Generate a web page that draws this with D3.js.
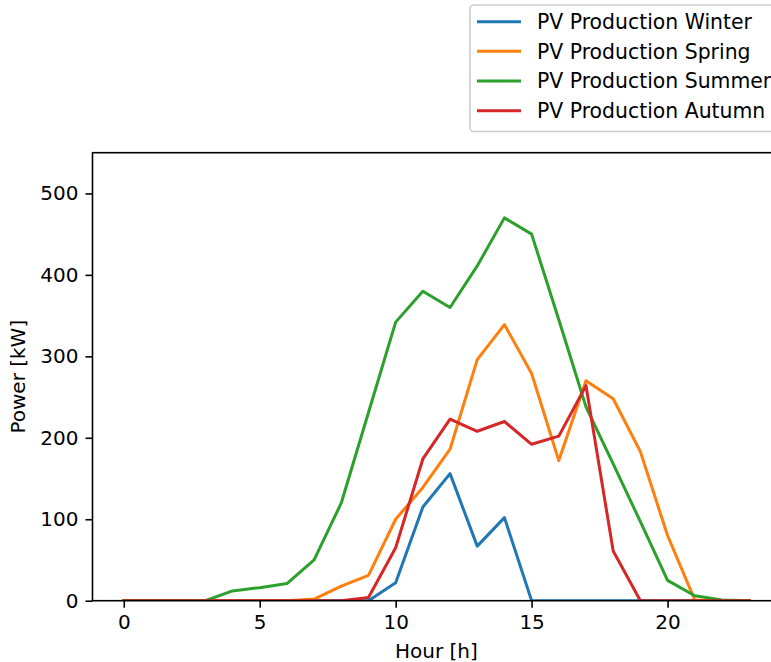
<!DOCTYPE html>
<html>
<head>
<meta charset="utf-8">
<script src="https://cdn.jsdelivr.net/npm/d3@7"></script>
<style>
  html, body { margin: 0; padding: 0; background: #fff; overflow: hidden; }
  svg { display: block; font-family: "DejaVu Sans", sans-serif; }
</style>
</head>
<body>
<svg id="chart" width="771" height="662"></svg>
<script>
const hours = d3.range(0, 24);
const winter = [0,0,0,0,0,0,0,0,0,0,22,115,156,67,102,0,0,0,0,0,0,0,0,0];
const spring = [0,0,0,0,0,0,0,2,18,31,100,139,186,296,339,279,172,270,248,183,80,1,0,0];
const summer = [0,0,0,0,12,16,21,50,120,231,342,380,360,411,470,450,345,238,168,97,25,6,1,0];
const autumn = [0,0,0,0,0,0,0,0,0,4,65,174,223,208,220,192,202,264,61,0,0,0,0,0];
const seriesNames = ["PV Production Winter","PV Production Spring","PV Production Summer","PV Production Autumn"];
const seriesColors = ["#1f77b4","#ff7f0e","#2ca02c","#d62728"];
const xTicks = [0,5,10,15,20];
const yTicks = [0,100,200,300,400,500];

const series = [winter, spring, summer, autumn];

(function(){
const svg = d3.select("#chart");
const pL = 92.5, pR = 780.4, pT = 152.7, pB = 600.7;
const FS = 20;
const LFS = 20.4;

const x = d3.scaleLinear().domain([-1.15, 24.15]).range([pL, pR]);
const y = d3.scaleLinear().domain([0, 550]).range([pB, pT]);

svg.append("clipPath").attr("id","plotclip").append("rect")
  .attr("x", pL).attr("y", pT).attr("width", pR-pL).attr("height", pB-pT);

const line = d3.line().x((d,i)=>x(hours[i])).y(d=>y(d));
const g = svg.append("g").attr("clip-path","url(#plotclip)");
series.forEach((s,k)=>{
  g.append("path").datum(s).attr("d", line)
    .attr("fill","none").attr("stroke", seriesColors[k])
    .attr("stroke-width", 3).attr("stroke-linejoin","round").attr("stroke-linecap","square");
});

svg.append("rect").attr("x", pL).attr("y", pT).attr("width", pR-pL).attr("height", pB-pT)
  .attr("fill","none").attr("stroke","#000").attr("stroke-width",1.6);

const xAxis = d3.axisBottom(x).tickValues(xTicks).tickSize(7).tickPadding(7).tickFormat(d3.format("d"));
const gx = svg.append("g").attr("transform",`translate(0,${pB})`).call(xAxis);
gx.select(".domain").remove();
gx.selectAll(".tick line").attr("stroke","#000").attr("stroke-width",1.6);
gx.selectAll(".tick text").attr("font-size",FS).attr("fill","#000").attr("font-family","DejaVu Sans");

const yAxis = d3.axisLeft(y).tickValues(yTicks).tickSize(7).tickPadding(7).tickFormat(d3.format("d"));
const gy = svg.append("g").attr("transform",`translate(${pL},0)`).call(yAxis);
gy.select(".domain").remove();
gy.selectAll(".tick line").attr("stroke","#000").attr("stroke-width",1.6);
gy.selectAll(".tick text").attr("font-size",FS).attr("fill","#000").attr("font-family","DejaVu Sans");

svg.append("text").attr("x", (pL+pR)/2).attr("y", 657.5).attr("text-anchor","middle")
  .attr("font-size",FS).attr("fill","#000").text("Hour [h]");
svg.append("text").attr("transform",`translate(25,${(pT+pB)/2}) rotate(-90)`).attr("text-anchor","middle")
  .attr("font-size",FS).attr("fill","#000").text("Power [kW]");

const lg = svg.append("g");
lg.append("rect").attr("x",470).attr("y",5).attr("width",330).attr("height",126.5).attr("rx",4)
  .attr("fill","#fff").attr("fill-opacity",0.8).attr("stroke","#cccccc").attr("stroke-width",1.6);
const rowY = [21.7, 51.3, 81, 110.7];
seriesNames.forEach((name,k)=>{
  lg.append("line").attr("x1",477).attr("x2",521).attr("y1",rowY[k]).attr("y2",rowY[k])
    .attr("stroke",seriesColors[k]).attr("stroke-width",3);
  lg.append("text").attr("x",537).attr("y",rowY[k]).attr("dy","0.36em")
    .attr("font-size",LFS).attr("fill","#000").text(name);
});
})();
</script>
</body>
</html>
